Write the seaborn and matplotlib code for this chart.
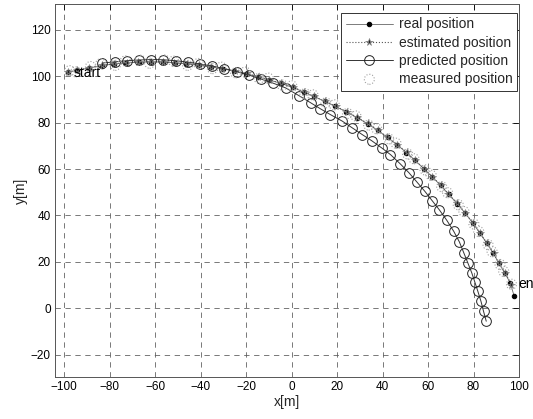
import matplotlib
matplotlib.use("Agg")
import matplotlib.pyplot as plt
import seaborn as sns

# ---- data ----
real_x = [-98.3, -94.5, -89.0, -83.4, -78.0, -72.6, -67.2, -61.9, -56.6, -51.4, -46.2, -40.5,
          -35.3, -30.3, -25.1, -19.9, -14.8, -9.8, -4.6, 0.6, 5.4, 9.9, 14.6, 19.3, 24.1, 28.8,
          33.4, 37.9, 42.2, 46.4, 50.5, 54.3, 58.2, 61.9, 65.5, 69.1, 72.8, 76.3, 79.7, 82.8,
          85.9, 88.7, 91.2, 93.8, 96.2, 97.8]
real_y = [101.7, 102.4, 103.5, 104.5, 105.2, 105.7, 106.0, 106.1, 106.0, 105.7, 105.2, 104.6,
          103.9, 103.1, 102.1, 101.0, 99.7, 98.3, 96.8, 95.1, 93.1, 91.2, 89.1, 86.9, 84.6, 82.1,
          79.5, 76.6, 73.6, 70.4, 67.1, 63.7, 60.1, 56.6, 53.0, 49.1, 45.1, 41.0, 36.8, 32.4,
          28.0, 23.7, 19.4, 15.2, 10.9, 5.5]

est_x = [-98.1, -94.4, -89.1, -83.3, -78.1, -72.5, -67.3, -61.8, -56.5, -51.5, -46.1, -40.6,
         -35.2, -30.4, -25.0, -19.8, -14.9, -9.7, -4.7, 0.7, 5.5, 9.8, 14.5, 19.4, 24.2, 28.9,
         33.5, 37.8, 42.1, 46.5, 50.6, 54.2, 58.3, 61.8, 65.6, 69.0, 72.9, 76.4, 79.6, 82.9,
         85.8, 88.8, 91.1, 93.9, 96.6]
est_y = [101.9, 102.5, 103.6, 104.6, 105.3, 105.8, 106.1, 106.2, 106.1, 105.8, 105.3, 104.7,
         104.0, 103.2, 102.2, 101.1, 99.8, 98.4, 96.9, 95.2, 93.2, 91.3, 89.2, 87.0, 84.7, 82.2,
         79.6, 76.7, 73.7, 70.5, 67.2, 63.8, 60.2, 56.7, 53.1, 49.2, 45.2, 41.1, 36.9, 32.5,
         28.1, 23.8, 19.5, 15.3, 10.3]

pred_x = [-83.2, -77.8, -72.5, -67.1, -61.7, -56.4, -51.0, -45.6, -40.2, -34.9, -29.5, -24.1,
          -18.7, -13.4, -8.0, -2.6, 3.2, 8.4, 12.7, 17.1, 22.3, 26.7, 31.1, 35.2, 39.6, 43.5,
          47.7, 51.6, 55.2, 58.6, 61.8, 65.0, 68.2, 71.3, 73.8, 75.7, 77.5, 79.2, 80.6, 81.9,
          83.3, 84.4, 85.6]
pred_y = [105.6, 106.1, 106.6, 106.9, 107.1, 107.0, 106.6, 106.0, 105.2, 104.3, 103.2, 101.9,
          100.4, 98.7, 96.9, 94.9, 91.6, 88.5, 85.9, 83.4, 80.6, 77.7, 74.8, 72.2, 69.1, 66.2,
          62.3, 58.4, 54.3, 50.4, 46.4, 42.4, 38.0, 33.2, 28.6, 24.0, 19.6, 15.4, 11.3, 7.4,
          3.0, -1.2, -5.5]

meas_x = [-97.6, -94.9, -88.4, -83.9, -77.5, -73.1, -66.6, -62.4, -56.0, -51.9, -45.7, -41.0,
          -34.8, -30.9, -24.6, -20.4, -14.3, -10.2, -4.1, 0.1, 5.9, 9.4, 15.1, 18.8, 24.6, 28.3,
          33.9, 37.4, 42.7, 45.9, 51.0, 53.8, 58.7, 61.4, 66.0, 68.6, 73.3, 75.8, 80.2, 82.3,
          86.4, 88.2, 91.7, 93.3, 96.7]
meas_y = [102.3, 101.8, 104.1, 105.3, 104.6, 106.5, 106.8, 105.5, 106.9, 106.4, 104.6, 105.4,
          103.2, 103.8, 101.4, 101.7, 99.0, 99.1, 96.1, 95.8, 92.4, 91.9, 88.5, 87.6, 83.9, 82.8,
          78.9, 77.3, 73.0, 71.1, 66.5, 64.4, 59.6, 57.3, 52.4, 49.8, 44.6, 41.7, 36.3, 33.1,
          27.4, 24.4, 18.9, 15.9, 10.4]

x_ticks = [-100, -80, -60, -40, -20, 0, 20, 40, 60, 80, 100]
y_ticks = [-20, 0, 20, 40, 60, 80, 100, 120]

# ---- figure ----
sns.set_theme(style="white")
plt.rcParams["font.family"] = ["Liberation Sans", "DejaVu Sans"]

fig = plt.figure(figsize=(5.33, 4.19), dpi=100)
ax = fig.add_axes([55 / 533, 1 - 377 / 419, (519 - 55) / 533, (377 - 4) / 419])

sns.lineplot(x=real_x, y=real_y, sort=False, estimator=None, ax=ax,
             color="#666666", linewidth=0.6, linestyle="-",
             marker="o", markersize=3.2, markerfacecolor="black",
             markeredgecolor="black", label="real position")
sns.lineplot(x=est_x, y=est_y, sort=False, estimator=None, ax=ax,
             color="#555555", linewidth=0.8, linestyle=":",
             marker="*", markersize=5.5, markerfacecolor="#222222",
             markeredgecolor="#888888", markeredgewidth=0.5, label="estimated position")
sns.lineplot(x=pred_x, y=pred_y, sort=False, estimator=None, ax=ax,
             color="#333333", linewidth=0.7, linestyle="-",
             marker="o", markersize=7.0, markerfacecolor="none",
             markeredgecolor="#222222", markeredgewidth=0.7, label="predicted position")
ax.scatter(meas_x, meas_y, s=52, marker="o", facecolors="none",
           edgecolors="#a0a0a0", linewidths=0.8, linestyles=":",
           label="measured position", zorder=3)

ax.text(-96.0, 101.2, "start", fontsize=10, va="center", ha="left", color="black")
ax.text(99.6, 10.6, "end", fontsize=10, va="center", ha="left", color="black", clip_on=False)

ax.set_xlim(-104, 100)
ax.set_ylim(-29.5, 131)
ax.set_xticks(x_ticks)
ax.set_yticks(y_ticks)
ax.grid(True, color="#555555", linestyle=(0, (7, 6)), linewidth=0.55)
ax.tick_params(direction="in", top=True, right=True, length=4, width=0.6,
               labelsize=8.5, colors="black", pad=3)
for s in ax.spines.values():
    s.set_color("#555555")
    s.set_linewidth(0.7)

ax.set_xlabel("x[m]", fontsize=10, labelpad=1)
ax.set_ylabel("y[m]", fontsize=10, labelpad=2)

leg = ax.legend(loc="upper right", bbox_to_anchor=(0.996, 0.977), fontsize=10,
                frameon=True, fancybox=False, edgecolor="#333333", framealpha=1,
                borderpad=0.35, labelspacing=0.3, handlelength=3.4, handletextpad=0.4,
                borderaxespad=0.0)
leg.get_frame().set_linewidth(0.7)

fig.savefig("out.png", dpi=100)
